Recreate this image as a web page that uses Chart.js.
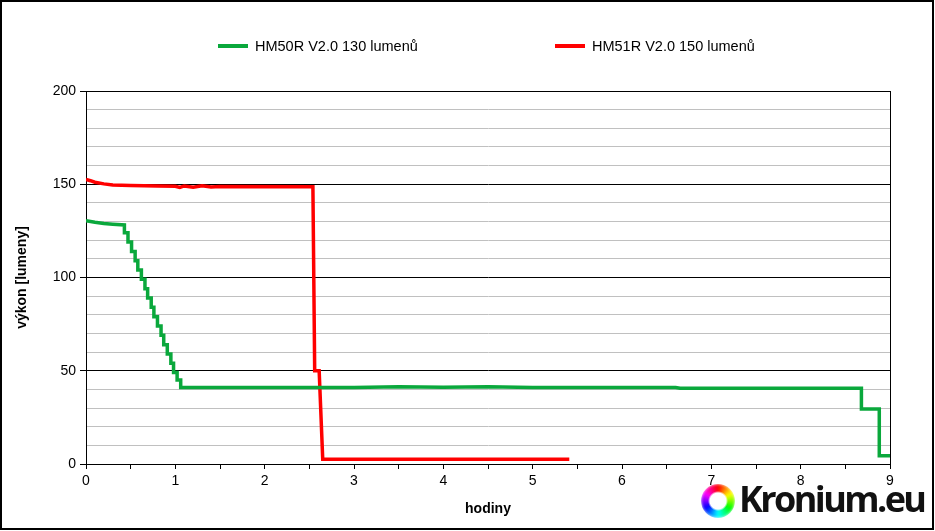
<!DOCTYPE html>
<html>
<head>
<meta charset="utf-8">
<script src="https://cdn.jsdelivr.net/npm/chart.js@4/dist/chart.umd.min.js"></script>
<style>
  html, body { margin: 0; padding: 0; background: #fff; }
  #wrap { position: relative; width: 935px; height: 531px; font-family: "Liberation Sans", Arial, sans-serif; }
  #chart { position: absolute; left: 0; top: 0; }
  #legend { position: absolute; top: 38px; left: 0; width: 935px; height: 20px; }
  .item { position: absolute; top: 0; display: flex; align-items: center; font-size: 14.5px; color: #000; white-space: nowrap; }
  .swatch { width: 30px; height: 4px; margin-right: 7px; }
  #ring { position: absolute; left: 701px; top: 484px; width: 34px; height: 34px; border-radius: 50%;
          background: conic-gradient(#f00, #ff0, #0f0, #0ff, #00f, #f0f, #f00);
          -webkit-mask: radial-gradient(circle, transparent 8px, #000 10px); mask: radial-gradient(circle, transparent 8px, #000 10px);
          filter: blur(1.5px); }
  #brand { position: absolute; left: 739px; top: 481px; font-family: "Open Sans", sans-serif; font-weight: 700; font-size: 36px;
           letter-spacing: -2.6px; color: #111; line-height: 1; white-space: nowrap; }
</style>
</head>
<body>
<div id="wrap">
  <canvas id="chart" width="935" height="531"></canvas>
  <div id="legend">
    <div class="item" style="left:218px"><span class="swatch" style="background:#0aa83c"></span>HM50R V2.0 130 lumenů</div>
    <div class="item" style="left:555px"><span class="swatch" style="background:#ff0000"></span>HM51R V2.0 150 lumenů</div>
  </div>
  <div id="ring"></div>
  <div id="brand">Kronium.eu</div>
</div>
<script>
// --- data ---
const seriesNames = ['HM50R V2.0 130 lumenů', 'HM51R V2.0 150 lumenů'];

const greenHours = [0, 0.1, 0.2, 0.3, 0.43, 0.43, 0.47, 0.47, 0.51, 0.51, 0.55, 0.55, 0.58, 0.58, 0.62, 0.62,
  0.66, 0.66, 0.69, 0.69, 0.73, 0.73, 0.76, 0.76, 0.80, 0.80, 0.84, 0.84, 0.87, 0.87, 0.91, 0.91,
  0.95, 0.95, 0.98, 0.98, 1.02, 1.02, 1.06, 1.06, 2.0, 3.0, 3.5, 4.0, 4.5, 5.0, 6.0, 6.6, 6.65,
  8.68, 8.68, 8.88, 8.88, 9.0];
const greenLumens = [130.5, 129.6, 129.0, 128.6, 128.2, 124, 124, 119, 119, 114, 114, 109, 109, 104, 104, 99,
  99, 94, 94, 89, 89, 84, 84, 79, 79, 74, 74, 69, 69, 64, 64, 59,
  59, 54, 54, 49, 49, 45, 45, 41, 41, 41, 41.4, 41.2, 41.4, 41, 41, 41, 40.6,
  40.6, 29.5, 29.5, 4.4, 4.4];

const redHours = [0, 0.05, 0.1, 0.2, 0.3, 0.5, 0.8, 1.0, 1.05, 1.1, 1.2, 1.3, 1.4, 1.5, 2.54, 2.56, 2.61, 2.65, 5.41];
const redLumens = [152.6, 151.9, 151.1, 150.2, 149.6, 149.3, 149.0, 148.9, 148.3, 149.1, 148.4, 149.2, 148.5, 148.8, 148.7, 50, 50, 2.5, 2.5];

const xTicks = [0, 1, 2, 3, 4, 5, 6, 7, 8, 9];
const yTicks = [0, 50, 100, 150, 200];

const toPoints = (xs, ys) => xs.map((x, i) => ({ x: x, y: ys[i] }));

// outer frame of the picture + top/right edges of the plot box
const framePlugin = {
  id: 'frame',
  beforeDraw(chart) {
    const c = chart.ctx;
    c.save();
    c.fillStyle = '#fff';
    c.fillRect(0, 0, chart.width, chart.height);
    c.strokeStyle = '#000';
    c.lineWidth = 2;
    c.strokeRect(1, 1, 932, 528);
    c.restore();
  },
  afterDraw(chart) {
    const a = chart.chartArea;
    const c = chart.ctx;
    c.save();
    c.strokeStyle = '#000';
    c.lineWidth = 1;
    c.beginPath();
    c.moveTo(a.left, Math.round(a.top) + 0.5);
    c.lineTo(a.right, Math.round(a.top) + 0.5);
    c.moveTo(Math.round(a.right) + 0.5, a.top);
    c.lineTo(Math.round(a.right) + 0.5, a.bottom);
    c.stroke();
    c.restore();
  }
};

Chart.defaults.font.family = '"Liberation Sans", Arial, sans-serif';
Chart.defaults.color = '#000';

new Chart(document.getElementById('chart'), {
  type: 'line',
  data: {
    datasets: [
      {
        label: seriesNames[0],
        data: toPoints(greenHours, greenLumens),
        borderColor: '#0aa83c',
        borderWidth: 3.5,
        pointRadius: 0,
        tension: 0
      },
      {
        label: seriesNames[1],
        data: toPoints(redHours, redLumens),
        borderColor: '#ff0000',
        borderWidth: 3.5,
        pointRadius: 0,
        tension: 0
      }
    ]
  },
  options: {
    responsive: false,
    animation: false,
    layout: { padding: { top: 91, left: 14, right: 45, bottom: 13 } },
    plugins: { legend: { display: false }, tooltip: { enabled: false } },
    scales: {
      x: {
        type: 'linear',
        min: 0,
        max: 9,
        afterFit: s => { s.height = 54; },
        ticks: {
          stepSize: 0.5,
          autoSkip: false,
          padding: 4,
          font: { size: 14 },
          callback: v => (xTicks.includes(v) ? String(v) : '')
        },
        grid: {
          color: ctx => (ctx.tick && ctx.tick.value === 9 ? '#000' : 'rgba(0,0,0,0)'),
          tickColor: '#000',
          tickLength: 5
        },
        border: { color: '#000', width: 1 },
        title: { display: true, text: 'hodiny', font: { size: 14, weight: 'bold' }, padding: 0 }
      },
      y: {
        min: 0,
        max: 200,
        afterFit: s => { s.width = 72; },
        ticks: {
          stepSize: 10,
          autoSkip: false,
          padding: 4,
          font: { size: 14 },
          callback: v => (yTicks.includes(v) ? String(v) : '')
        },
        grid: {
          color: ctx => (ctx.tick && ctx.tick.value % 50 === 0 ? '#000' : '#c0c0c0'),
          tickColor: ctx => (ctx.tick && ctx.tick.value % 50 === 0 ? '#000' : 'rgba(0,0,0,0)'),
          tickLength: 6
        },
        border: { color: '#000', width: 1 },
        title: { display: true, text: 'výkon [lumeny]', font: { size: 14, weight: 'bold' }, padding: 0 }
      }
    }
  },
  plugins: [framePlugin]
});
</script>
</body>
</html>
